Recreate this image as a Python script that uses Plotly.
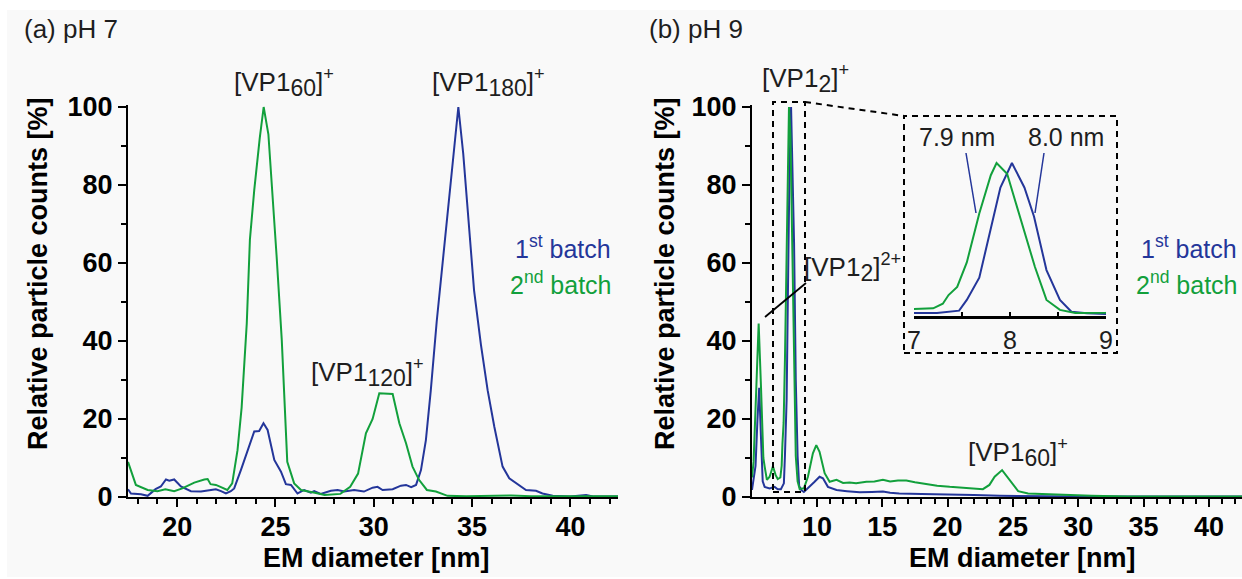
import plotly.graph_objects as go

W, H = 1242, 579

BLUE = "#24369a"
GREEN = "#12a03c"
TXT = "#1e1e1e"

# ---------------- data: (a) pH 7 ----------------
ph7_blue_x = [17.5, 17.65, 18.16, 18.5, 18.9, 19.17, 19.43, 19.6, 19.85, 20.19, 20.7, 21.21, 21.72,
              21.97, 22.23, 22.48, 22.73, 22.9, 23.24, 23.58, 23.92, 24.17, 24.39, 24.6, 24.94, 25.28,
              25.53, 25.79, 26.12, 26.46, 26.8, 26.97, 27.3, 27.82, 28.16, 28.5, 29.0, 29.5, 29.94,
              30.19, 30.45, 30.96, 31.38, 31.64, 31.9, 32.15, 32.4, 32.65, 32.9, 33.2, 33.5, 33.8,
              34.05, 34.3, 34.55, 34.8, 35.1, 35.45, 35.79, 36.13, 36.55, 36.89, 37.4, 37.74, 38.25,
              38.58, 39.1, 40.0, 40.8, 41.2, 42.42]
ph7_blue_y = [2.0, 0.9, 0.7, 0.3, 2.0, 2.7, 4.5, 4.2, 4.5, 2.7, 1.5, 1.4, 1.8,
              2.0, 1.5, 0.9, 1.5, 2.2, 6.9, 12.0, 16.8, 16.9, 18.9, 17.2, 9.5, 6.5,
              3.3, 3.1, 0.9, 1.8, 1.1, 1.5, 0.8, 1.6, 1.8, 1.4, 1.8, 1.4, 2.4,
              2.6, 1.8, 2.0, 2.9, 3.1, 2.5, 3.1, 6.9, 14.6, 27.4, 45.0, 60.0, 75.0,
              89.0, 100.0, 88.0, 71.0, 53.0, 39.0, 27.4, 18.0, 7.8, 4.8, 3.1, 1.8, 1.6,
              0.9, 0.3, 0.1, 0.5, 0.1, 0.1]

ph7_green_x = [17.5, 17.9, 18.5, 19.0, 19.4, 19.85, 20.26, 20.87, 21.38, 21.55, 21.7, 21.97, 22.2,
               22.55, 22.8, 23.07, 23.28, 23.54, 23.7, 23.92, 24.2, 24.4, 24.64, 24.85, 25.06, 25.32,
               25.49, 25.6, 25.95, 26.3, 27.0, 27.5, 28.3, 28.8, 29.2, 29.6, 29.94, 30.28, 30.96,
               31.3, 31.64, 31.97, 32.3, 32.7, 33.16, 33.75, 34.7, 36.0, 37.0, 38.0, 42.42]
ph7_green_y = [9.0, 3.1, 1.8, 1.5, 2.0, 1.5, 2.2, 3.7, 4.5, 4.6, 3.3, 3.1, 2.6,
               1.8, 3.5, 12.0, 23.0, 44.5, 66.0, 78.7, 92.0, 100.0, 93.0, 78.0, 61.6, 40.3,
               23.0, 9.0, 3.5, 1.8, 1.1, 0.5, 0.8, 2.6, 6.0, 16.3, 20.0, 26.6, 26.4,
               18.9, 13.8, 7.8, 4.4, 1.8, 1.4, 0.3, 0.2, 0.3, 0.4, 0.2, 0.2]

# ---------------- data: (b) pH 9 ----------------
ph9_blue_x = [5.03, 5.3, 5.45, 5.58, 5.72, 5.85, 6.0, 6.38, 6.76, 7.0, 7.24, 7.47, 7.55, 7.68, 7.8,
              7.9, 8.02, 8.15, 8.25, 8.38, 8.52, 8.64, 8.8, 9.0, 9.31, 9.82, 10.2, 10.46, 10.84,
              11.5, 12.3, 13.27, 14.2, 15.05, 15.6, 16.3, 18.0, 20.16, 22.0, 24.0, 26.0, 30.0, 42.53]
ph9_blue_y = [1.8, 8.0, 20.0, 28.0, 15.0, 4.0, 2.6, 2.2, 2.6, 2.0, 2.0, 3.5, 10.5, 25.0, 58.0,
              84.0, 100.0, 84.0, 65.0, 30.0, 10.5, 2.8, 1.8, 1.3, 2.2, 3.9, 5.2, 4.8, 2.6,
              1.8, 1.5, 1.2, 1.3, 1.4, 1.1, 0.9, 0.8, 0.7, 0.5, 0.3, 0.2, 0.1, 0.1]

ph9_green_x = [5.03, 5.15, 5.36, 5.54, 5.72, 5.9, 6.0, 6.17, 6.38, 6.63, 6.84, 7.0, 7.2, 7.3, 7.36,
               7.45, 7.55, 7.68, 7.8, 7.86, 7.97, 8.05, 8.15, 8.26, 8.38, 8.52, 8.68, 8.85, 9.0,
               9.31, 9.69, 9.95, 10.2, 10.59, 10.97, 11.5, 12.0, 12.5, 13.0, 13.78, 14.4, 15.05,
               15.6, 16.2, 16.84, 17.5, 18.38, 19.2, 20.16, 21.0, 21.7, 22.7, 23.2, 23.6, 24.17,
               24.75, 25.4, 26.16, 27.5, 28.7, 31.0, 33.8, 42.53]
ph9_green_y = [5.0, 9.0, 28.0, 44.5, 28.0, 10.0, 7.8, 4.4, 5.2, 7.9, 5.6, 4.6, 5.0, 8.0, 13.7,
               19.0, 35.0, 67.0, 92.0, 100.0, 93.0, 76.0, 54.0, 32.0, 10.5, 4.0, 2.0, 2.2, 2.2,
               5.2, 11.2, 13.3, 11.6, 6.1, 3.9, 4.4, 3.6, 3.7, 3.5, 3.9, 4.0, 4.4,
               4.0, 4.2, 4.2, 3.8, 3.3, 2.9, 2.6, 2.4, 2.2, 2.0, 3.1, 5.2, 6.9,
               4.4, 1.5, 0.9, 0.7, 0.5, 0.3, 0.1, 0.1]

x_ticks_a = [20, 25, 30, 35, 40]
x_ticks_b = [10, 15, 20, 25, 30, 35, 40]
y_ticks = [0, 20, 40, 60, 80, 100]
inset_ticks = [7, 8, 9]


def px(x):
    """screen pixel x -> paper fraction"""
    return x / W


def py(y):
    """screen pixel y -> paper fraction"""
    return 1 - y / H


fig = go.Figure()
for xs, ys, col, xa, ya in [
    (ph7_blue_x, ph7_blue_y, BLUE, "x", "y"),
    (ph7_green_x, ph7_green_y, GREEN, "x", "y"),
    (ph9_blue_x, ph9_blue_y, BLUE, "x2", "y2"),
    (ph9_green_x, ph9_green_y, GREEN, "x2", "y2"),
    (ph9_blue_x, ph9_blue_y, BLUE, "x3", "y3"),
    (ph9_green_x, ph9_green_y, GREEN, "x3", "y3"),
]:
    fig.add_trace(go.Scatter(x=xs, y=ys, mode="lines", line=dict(color=col, width=2),
                             xaxis=xa, yaxis=ya, showlegend=False, hoverinfo="skip"))

FAM = "Liberation Sans, Arial, sans-serif"
tick_font = dict(family=FAM, size=27, color="black", weight="bold")
axis_common = dict(showline=True, linecolor="black", linewidth=2, showgrid=False, zeroline=False,
                   ticks="outside", ticklen=8, tickwidth=2, tickcolor="black", tickfont=tick_font,
                   tickmode="array")
minor_common = dict(tickmode="array", ticks="outside", ticklen=5, tickwidth=1.5, tickcolor="black")

Y0, Y100 = 497, 107
ytop = 100.6
ydom = [py(Y0), py(Y0 - (Y0 - Y100) * ytop / 100)]

fig.update_layout(
    width=W, height=H,
    margin=dict(l=0, r=0, t=0, b=0, autoexpand=False),
    paper_bgcolor="#f9f9f9", plot_bgcolor="rgba(0,0,0,0)",
    xaxis=dict(domain=[px(128), px(618)], range=[17.5, 42.42], anchor="y", tickvals=x_ticks_a,
               minor=dict(tickvals=[v for v in range(18, 43) if v % 5], **minor_common),
               ticklabelstandoff=-3, **axis_common),
    yaxis=dict(domain=ydom, range=[0, ytop], anchor="x", tickvals=y_ticks,
               minor=dict(tickvals=[10, 30, 50, 70, 90], **minor_common),
               **axis_common),
    xaxis2=dict(domain=[px(752), 1.0], range=[5.03, 42.53], anchor="y2", tickvals=x_ticks_b,
                minor=dict(tickvals=[v for v in range(6, 43) if v % 5], **minor_common),
                ticklabelstandoff=-3, **axis_common),
    yaxis2=dict(domain=ydom, range=[0, ytop], anchor="x2", tickvals=y_ticks,
                minor=dict(tickvals=[10, 30, 50, 70, 90], **minor_common),
                **axis_common),
    xaxis3=dict(domain=[px(914), px(1106)], range=[7, 9], anchor="y3", tickmode="array",
                tickvals=inset_ticks, showline=True, linecolor="black", linewidth=2.5,
                showgrid=False, zeroline=False, ticks="inside", ticklen=4, tickwidth=1.5,
                tickcolor="black", tickfont=dict(family=FAM, size=25, color=TXT),
                minor=dict(tickmode="array", tickvals=[7.5, 8.5], ticks="inside", ticklen=4,
                           tickwidth=1.5, tickcolor="black")),
    yaxis3=dict(domain=[py(316), py(116)], range=[0, 130.7], anchor="x3", visible=False),
)

reg = dict(family=FAM, size=26, color=TXT)
bold = dict(family=FAM, size=27, color="black", weight="bold")


def ann(text, x, y, font, xanchor="left", yanchor="middle", angle=0):
    fig.add_annotation(text=text, x=px(x), y=py(y), xref="paper", yref="paper", showarrow=False,
                       xanchor=xanchor, yanchor=yanchor, font=font, textangle=angle)


def sub(t):
    return "<sub><span style='font-size:23px'>%s</span></sub>" % t


ann("(a) pH 7", 22, 29, reg)
ann("(b) pH 9", 647, 29, reg)
ann("Relative particle counts [%]", 38, 274, bold, xanchor="center", angle=-90)
ann("Relative particle counts [%]", 665, 274, bold, xanchor="center", angle=-90)
ann("EM diameter [nm]", 376, 558, bold, xanchor="center")
ann("EM diameter [nm]", 1022, 558, bold, xanchor="center")

ann("[VP1" + sub("60") + "]<sup>+</sup>", 232, 82, reg)
ann("[VP1" + sub("180") + "]<sup>+</sup>", 430, 82, reg)
ann("[VP1" + sub("120") + "]<sup>+</sup>", 309, 372, reg)
ann("[VP1" + sub("2") + "]<sup>+</sup>", 760, 78, reg)
ann("[VP1" + sub("2") + "]<sup>2+</sup>", 802, 268, reg)
ann("[VP1" + sub("60") + "]<sup>+</sup>", 966, 452, reg)
ann("7.9 nm", 957, 137, dict(reg, size=25), xanchor="center")
ann("8.0 nm", 1066, 137, dict(reg, size=25), xanchor="center")

for xr in (613, 1239):
    ann("1<sup>st</sup> batch", xr, 247, dict(reg, size=25, color=BLUE), xanchor="right")
    ann("2<sup>nd</sup> batch", xr, 283, dict(reg, size=25, color=GREEN), xanchor="right")

dash = "6px,5px"
shapes = [
    # white frame strips around the grey figure area
    dict(type="rect", x0=0, x1=1, y0=py(10), y1=1, fillcolor="white", line=dict(width=0)),
    dict(type="rect", x0=0, x1=px(7), y0=0, y1=1, fillcolor="white", line=dict(width=0)),
    dict(type="rect", x0=0, x1=1, y0=0, y1=py(577), fillcolor="white", line=dict(width=0)),
    # zoom box around main peak
    dict(type="rect", x0=px(773), x1=px(805), y0=py(492), y1=py(102),
         line=dict(color="black", width=2, dash=dash)),
    dict(type="line", x0=px(805), y0=py(102), x1=px(904), y1=py(116),
         line=dict(color="black", width=2, dash=dash)),
    # inset frame
    dict(type="rect", x0=px(904), x1=px(1117), y0=py(353), y1=py(116),
         line=dict(color="black", width=2, dash=dash)),
    # pointer to [VP1_2]2+
    dict(type="line", x0=px(765), y0=py(317), x1=px(806), y1=py(283),
         line=dict(color="black", width=1.8)),
    # pointers for 7.9 / 8.0 nm
    dict(type="line", x0=px(966), y0=py(153), x1=px(976), y1=py(213),
         line=dict(color=BLUE, width=1.5)),
    dict(type="line", x0=px(1044), y0=py(153), x1=px(1035), y1=py(213),
         line=dict(color=BLUE, width=1.5)),
]
for s in shapes:
    s.update(xref="paper", yref="paper", layer="above")
    fig.add_shape(**s)

fig.write_html(
    "out.html",
    config={"displayModeBar": False},
    post_script="document.body.style.margin='0';document.body.style.overflow='hidden';",
)
